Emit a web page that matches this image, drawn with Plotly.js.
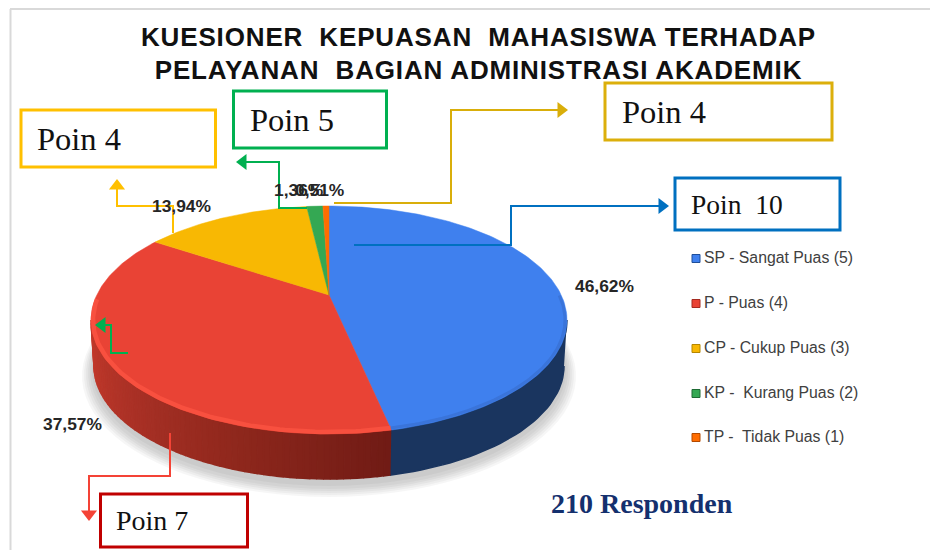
<!DOCTYPE html>
<html>
<head>
<meta charset="utf-8">
<script src="https://cdn.plot.ly/plotly-3.0.1.min.js"></script>
<style>html,body{margin:0;padding:0;background:#fff;overflow:hidden}
.gtitle{letter-spacing:0.85px}</style>
</head>
<body>
<div id="chart" style="width:930px;height:550px"></div>
<script>
// ---- data ----
const categories = ['SP - Sangat Puas (5)', 'P - Puas (4)', 'CP - Cukup Puas (3)', 'KP -  Kurang Puas (2)', 'TP -  Tidak Puas (1)'];
const values = [46.62, 37.57, 13.94, 1.36, 0.51];
const sliceColors = ['#3F80EE', '#E94335', '#F8B803', '#34A853', '#FF6D01'];
const sideColors = ['#1A355F', '#B0322A', '#B58600', '#1E6B34', '#B34A00'];
const swatchEdge = ['#1F4E99', '#A52A20', '#B58600', '#1E6B34', '#B34A00'];
const callouts = ['Poin 10', 'Poin 7', 'Poin 4', 'Poin 5', 'Poin 4'];

// ---- perspective pie geometry (drawn through the x / y axes below) ----
const cx = 329, topCy = 320, rx = 238, ry = 114, apexY = 295;
const botCy = 366, botRx = 235, botRy = 113;
const k = (apexY - topCy) / ry;
const rad = d => d * Math.PI / 180;
// value angle (deg clockwise from top) -> screen point on the tilted pie rim
function rimParam(deg) {
  const X = Math.sin(rad(deg)), Y = -Math.cos(rad(deg));
  const d = 1 + k * Y;
  return [X * Math.sqrt(1 - k * k) / d, (Y + k) / d];
}
function rimPoint(deg) { const p = rimParam(deg); return [cx + rx * p[0], topCy + ry * p[1]]; }
function sweep(a, b, step) {
  const out = [], n = Math.max(2, Math.ceil(Math.abs(b - a) / step));
  for (let i = 0; i <= n; i++) out.push(a + (b - a) * i / n);
  return out;
}
const traces = [];

// soft shadow under the disc
[[247, 121, 376], [245, 120, 375], [243, 119, 374], [241, 118, 373], [239, 117, 372], [237, 116, 370]].forEach(s => {
  const xs = [], ys = [];
  sweep(0, 360, 4).forEach(d => { xs.push(cx + s[0] * Math.sin(rad(d))); ys.push(s[2] + s[1] * Math.cos(rad(d))); });
  traces.push({type: 'scatter', mode: 'none', x: xs, y: ys, fill: 'toself', fillcolor: 'rgba(0,0,0,0.035)', hoverinfo: 'skip', showlegend: false});
});

// side wall: screen-parameter phi, 90 = right extreme, 180 = front, 270 = left extreme
function wall(phiA, phiB, color) {
  const xs = [], ys = [];
  sweep(phiA, phiB, 2).forEach(p => { xs.push(cx + rx * Math.sin(rad(p))); ys.push(topCy - ry * Math.cos(rad(p))); });
  sweep(phiB, phiA, 2).forEach(p => { xs.push(cx + botRx * Math.sin(rad(p))); ys.push(botCy - botRy * Math.cos(rad(p))); });
  traces.push({type: 'scatter', mode: 'lines', x: xs, y: ys, fill: 'toself', fillcolor: color,
    line: {color: color, width: 1.5}, hoverinfo: 'skip', showlegend: false});
}
const total = values.reduce((a, b) => a + b, 0);
const splitDeg = values[0] / total * 360;
const sp = rimParam(splitDeg);
const splitPhi = 180 - Math.asin(sp[0]) * 180 / Math.PI;
wall(90, splitPhi, sideColors[0]);
const redStops = [[0, [112, 27, 21]], [0.35, [142, 39, 28]], [0.65, [168, 48, 37]], [1, [198, 58, 44]]];
function redAt(t) {
  for (let i = 1; i < redStops.length; i++) {
    if (t <= redStops[i][0]) {
      const a = redStops[i - 1], b = redStops[i], u = (t - a[0]) / (b[0] - a[0]);
      return 'rgb(' + a[1].map((c, j) => Math.round(c + (b[1][j] - c) * u)).join(',') + ')';
    }
  }
  return 'rgb(198,58,44)';
}
const strips = 64;
for (let i = strips - 1; i >= 0; i--) {
  const a = splitPhi + (270 - splitPhi) * i / strips, b = splitPhi + (270 - splitPhi) * (i + 1) / strips;
  wall(a, b, redAt((i + 0.5) / strips));
}

// top faces
let acc = 0;
values.forEach((v, i) => {
  const a = acc / total * 360, b = (acc + v) / total * 360;
  acc += v;
  const xs = [cx], ys = [apexY];
  sweep(a, b, 1).forEach(d => { const p = rimPoint(d); xs.push(p[0]); ys.push(p[1]); });
  xs.push(cx); ys.push(apexY);
  traces.push({type: 'scatter', mode: 'lines', name: categories[i], x: xs, y: ys, fill: 'toself',
    fillcolor: sliceColors[i], line: {color: sliceColors[i], width: 0.5}, hoverinfo: 'name', showlegend: false});
});

// bevel highlight along the front rim
function bevel(a, b, color, width) {
  const xs = [], ys = [];
  sweep(a, b, 1).forEach(d => { const p = rimParam(d); xs.push(cx + (rx - 2) * p[0]); ys.push(topCy + (ry - 2) * p[1]); });
  traces.push({type: 'scatter', mode: 'lines', x: xs, y: ys, line: {color: color, width: width}, hoverinfo: 'skip', showlegend: false});
}
bevel(splitDeg, 268, '#F8503F', 4.5);
bevel(90, splitDeg, '#3A74DA', 3);

// connector lines with arrow tips
function connector(xs, ys, color, symbol) {
  traces.push({type: 'scatter', mode: 'lines', x: xs, y: ys, line: {color: color, width: 2}, hoverinfo: 'skip', showlegend: false});
  const n = xs.length - 1;
  traces.push({type: 'scatter', mode: 'markers', x: [xs[n]], y: [ys[n]], marker: {symbol: symbol, size: 14, color: color}, hoverinfo: 'skip', showlegend: false});
}
connector([173, 173, 117, 117], [233, 206, 206, 186], '#FFC000', 'triangle-up');
connector([307, 279, 279, 243], [208, 208, 162, 162], '#00B050', 'triangle-left');
connector([334, 451, 451, 561], [203, 203, 110, 110], '#D9AE0A', 'triangle-right');
connector([354, 511, 511, 662], [245, 245, 206, 206], '#0070C0', 'triangle-right');
connector([170, 170, 89, 89], [433, 476, 476, 514], '#F44336', 'triangle-down');
connector([128, 111, 111, 102], [353, 353, 325, 325], '#00B050', 'triangle-left');

// legend
const legendY = [258.5, 303.5, 348.5, 393.5, 437.5];
categories.forEach((c, i) => {
  traces.push({type: 'scatter', mode: 'markers', name: c, x: [696], y: [legendY[i]],
    marker: {symbol: 'square', size: 8, color: sliceColors[i], line: {color: swatchEdge[i], width: 1}}, hoverinfo: 'skip', showlegend: false});
  traces.push({type: 'scatter', mode: 'text', x: [704], y: [legendY[i] + 0.8], text: [c.replace(/  /g, '\u00a0 ')],
    textposition: 'middle right', textfont: {family: 'Liberation Sans, Arial, sans-serif', size: 15.8, color: '#404040'},
    hoverinfo: 'skip', showlegend: false});
});

const pct = v => v.toFixed(2).replace('.', ',') + '%';
const pctPos = [[573, 286], [41, 424], [150, 206], [272, 190], [293, 190]];
const annotations = values.map((v, i) => ({
  x: pctPos[i][0], y: pctPos[i][1], xref: 'x', yref: 'y', xanchor: 'left', yanchor: 'middle', showarrow: false,
  text: pct(v), font: {family: 'Liberation Sans, Arial, sans-serif', size: 17.4, color: '#262626', weight: 700}
}));

const boxes = [
  [675, 178, 840, 230, '#0070C0', 689, 27.5, callouts[0].replace(' ', '\u00a0 ')],
  [100.5, 494, 247.5, 547, '#C00000', 114, 28, callouts[1]],
  [21, 110, 215.5, 167, '#FFC000', 35, 32.5, callouts[2]],
  [233.5, 91, 386.5, 148, '#00B050', 248, 32.5, callouts[3]],
  [605, 83, 832, 140, '#DCAF0B', 620, 32.5, callouts[4]]
];
const shapes = [
  {type: 'line', xref: 'x', yref: 'y', x0: 10.5, x1: 10.5, y0: 9, y1: 550, line: {color: '#D9D9D9', width: 2}},
  {type: 'line', xref: 'x', yref: 'y', x0: 10, x1: 930, y0: 9, y1: 9, line: {color: '#D9D9D9', width: 2}}
];
boxes.forEach(b => {
  shapes.push({type: 'rect', xref: 'x', yref: 'y', x0: b[0], y0: b[1], x1: b[2], y1: b[3], line: {color: b[4], width: 3}, fillcolor: 'rgba(255,255,255,0)'});
  annotations.push({x: b[5], y: (b[1] + b[3]) / 2, xref: 'x', yref: 'y', xanchor: 'left', yanchor: 'middle', showarrow: false,
    text: b[7], font: {family: 'Liberation Serif, Times New Roman, serif', size: b[6], color: '#111111'}});
});
annotations.push({x: 549, y: 503, xref: 'x', yref: 'y', xanchor: 'left', yanchor: 'middle', showarrow: false,
  text: '<b>210 Responden</b>', font: {family: 'Liberation Serif, Times New Roman, serif', size: 28, color: '#14306E'}});

const layout = {
  width: 930, height: 550, margin: {l: 0, r: 0, t: 0, b: 0},
  paper_bgcolor: '#FFFFFF', plot_bgcolor: 'rgba(0,0,0,0)', showlegend: false,
  title: {
    text: '<b>KUESIONER\u00a0 KEPUASAN\u00a0 MAHASISWA TERHADAP<br>PELAYANAN\u00a0 BAGIAN ADMINISTRASI AKADEMIK</b>',
    x: 478.5 / 930, xanchor: 'center', y: 1 - 45.5 / 550, yanchor: 'top',
    font: {family: 'Liberation Sans, Arial, sans-serif', size: 26, color: '#111111'}
  },
  xaxis: {range: [0, 930], visible: false, fixedrange: true},
  yaxis: {range: [550, 0], visible: false, fixedrange: true},
  shapes: shapes, annotations: annotations
};
Plotly.newPlot('chart', traces, layout, {displayModeBar: false});
</script>
</body>
</html>
